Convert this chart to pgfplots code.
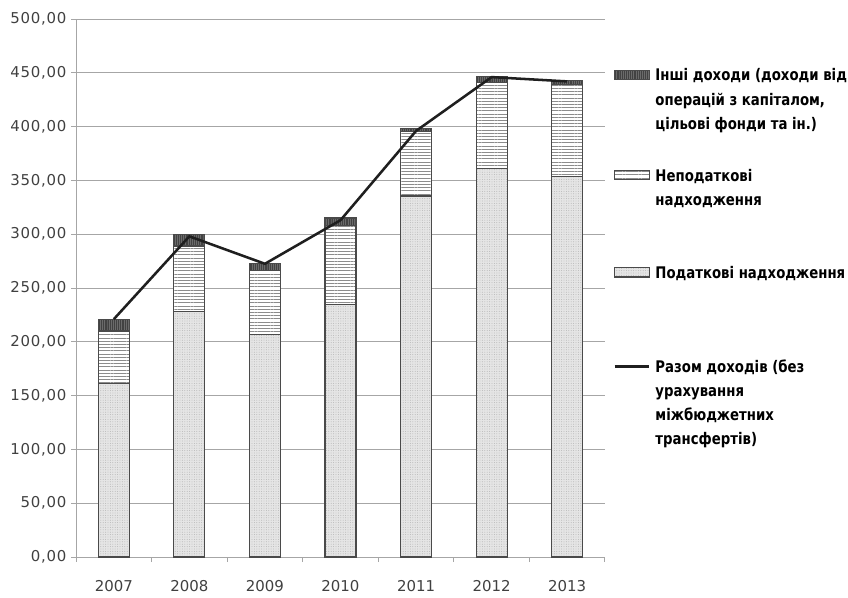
\documentclass[border=0pt]{standalone}
\usepackage{fontspec}
\setmainfont{DejaVu Sans}
\newfontfamily\legfont{DejaVu Sans}[FakeStretch=0.83]
\usepackage{pgfplots}
\pgfplotsset{compat=1.18}
\usetikzlibrary{patterns,patterns.meta}
\definecolor{tickc}{HTML}{404040}
\definecolor{gridc}{HTML}{A6A6A6}
\definecolor{barline}{HTML}{4A4A4A}
\pgfplotsset{
  legimgbox/.style={legend image code/.code={\draw[##1] (0pt,0.9pt) rectangle (26pt,7.9pt);}},
  legimgline/.style={legend image code/.code={\draw[##1] (0pt,4.4pt) -- (26pt,4.4pt);}},
  taxstyle/.style={fill=gray!20, draw=barline, line width=0.9pt, postaction={pattern={Dots[distance=1.8pt, radius=0.35pt]}, pattern color=gray!60}},
  nontaxstyle/.style={fill=white, draw=barline, line width=0.9pt, postaction={pattern={Lines[angle=0, distance=2.4pt, line width=0.45pt]}, pattern color=gray!90}},
  otherstyle/.style={fill=black!74, draw=barline, line width=0.9pt, postaction={pattern={Lines[angle=90, distance=1.6pt, line width=0.2pt]}, pattern color=black!58}},
  totstyle/.style={draw=black!88, line width=1.9pt},
  common/.style={
    width=396.75pt, height=403.5pt, scale only axis,
    xmin=-0.5, xmax=6.5, ymin=0, ymax=500,
  },
}
\begin{document}
\begin{tikzpicture}
\begin{axis}[
  common,
  ybar stacked, bar width=23.25pt,
  axis x line=bottom, axis y line=left,
  axis line style={-, draw=gridc, line width=0.75pt},
  ytick={0,50,...,500},
  ymajorgrids, grid style={draw=gridc, line width=0.75pt},
  xtick={0,...,6},
  xticklabels={2007,2008,2009,2010,2011,2012,2013},
  minor xtick={-0.5,0.5,...,6.5},
  tick align=outside,
  major tick length=3.75pt, minor tick length=3.75pt,
  major x tick style={draw=none},
  tick style={draw=gridc, line width=0.75pt},
  tick label style={font=\fontsize{11.2pt}{13pt}\selectfont, text=tickc},
  xticklabel style={yshift=-10pt},
  y tick label style={font=\fontsize{11.2pt}{13pt}\selectfont\addfontfeatures{LetterSpace=5}, /pgf/number format/.cd, fixed, fixed zerofill, precision=2, use comma, assume math mode=true},
  legend style={at={(axis description cs:1,0.908)}, anchor=north west, xshift=6pt,
    draw=none, fill=none, inner sep=0pt, row sep=0pt, column sep=3.75pt,
    nodes={inner sep=0pt, anchor=base west},
    font={\fontsize{12pt}{18.1pt}\legfont\bfseries}},
  legend cell align=left,
]
\addplot[taxstyle, forget plot] coordinates {(0,161) (1,228) (2,207) (3,235) (4,335.5) (5,361) (6,354)};
\addplot[nontaxstyle, forget plot] coordinates {(0,49) (1,61) (2,59.5) (3,73) (4,60) (5,80) (6,85)};
\addplot[otherstyle, forget plot] coordinates {(0,11) (1,11) (2,6) (3,7) (4,3) (5,5.5) (6,3.5)};

\addlegendimage{legimgbox, otherstyle}
\addlegendentry{\parbox[t]{260pt}{Інші доходи (доходи від\\операцій з капіталом,\\цільові фонди та ін.)}}
\addlegendimage{legimgbox, nontaxstyle}
\addlegendentry{\parbox[t]{260pt}{\rule{0pt}{73.6pt}Неподаткові\\надходження}}
\addlegendimage{legimgbox, taxstyle}
\addlegendentry{\parbox[t]{260pt}{\rule{0pt}{71.3pt}Податкові надходження}}
\addlegendimage{legimgline, totstyle}
\addlegendentry{\parbox[t]{260pt}{\rule{0pt}{69.1pt}Разом доходів (без\\урахування\\міжбюджетних\\трансфертів)}}
\end{axis}
\begin{axis}[common, hide axis]
\addplot[totstyle, sharp plot, mark=none] coordinates {(0,221) (1,298) (2,272.5) (3,313) (4,396) (5,446) (6,442)};
\end{axis}
\pgfresetboundingbox
\path (-57pt,-30pt) rectangle (579pt,417.75pt);
\end{tikzpicture}
\end{document}
